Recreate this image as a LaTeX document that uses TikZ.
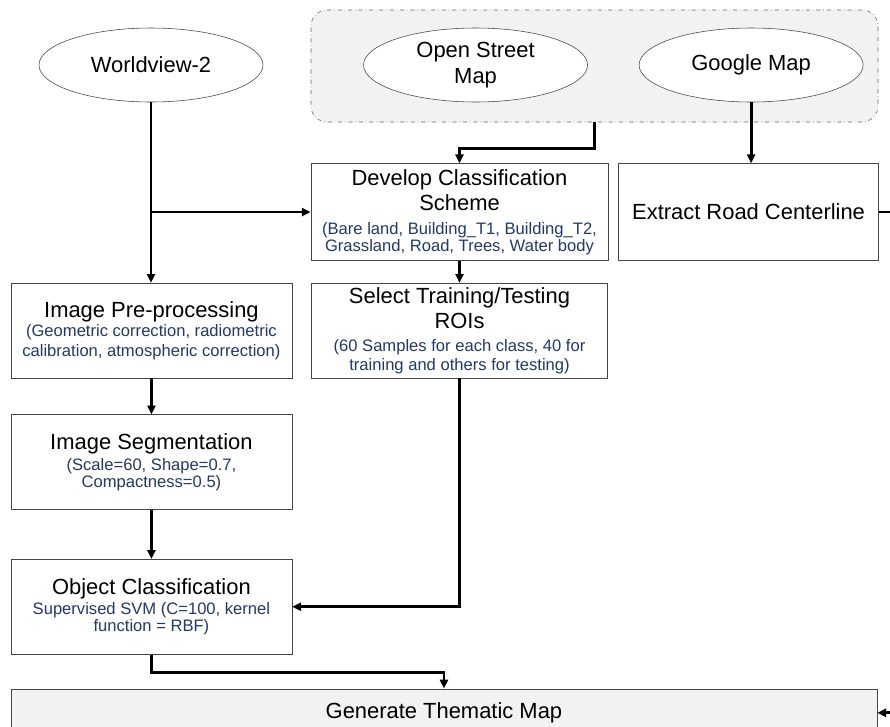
\documentclass[tikz,border=0pt]{standalone}
\usepackage{fontspec}
\setmainfont{Liberation Sans}
\usepackage{tikz}
\usetikzlibrary{positioning, arrows.meta, shapes.geometric}
\definecolor{noteblue}{RGB}{36,56,104}
\definecolor{edgegray}{RGB}{70,70,70}
\newcommand{\note}[1]{{\fontsize{11.8}{13}\selectfont\color{noteblue}#1}}
\tikzstyle{source} = [
    ellipse,
    draw = edgegray,
    fill = white,
    text centered,
    align = center,
    minimum width = 5.6cm,
    minimum height = 1.85cm,
    inner sep = 0pt
]
\tikzstyle{group} = [
    rectangle,
    draw = gray!80!black,
    dash dot,
    fill = gray!10,
    rounded corners = 0.4cm,
    minimum width = 14.175cm,
    minimum height = 2.8cm
]
\tikzstyle{process} = [
    rectangle,
    draw = edgegray,
    fill = white,
    text centered,
    align = center,
    inner sep = 1pt,
    minimum width = 7.025cm,
    minimum height = 2.375cm
]
\tikzstyle{result} = [
    rectangle,
    draw = edgegray,
    fill = gray!10,
    text centered,
    minimum width = 21.65cm,
    minimum height = 1.2cm
]
\tikzstyle{link} = [
    line width = 2pt,
    -{Triangle[length = 2.2mm, width = 2mm]}
]

\begin{document}
\begin{tikzpicture}[font = \fontsize{15.6}{18}\selectfont]

                \useasboundingbox (0,0) rectangle (22.25,-18.15);

                % data sources
                \node [group] (maps) at (14.8625,-1.65) {};
                \node [source] (wv) at (3.775,-1.625) {Worldview-2};
                \node [source, right = 2.5cm of wv] (osm) {Open Street\\Map};
                \node [source, right = 1.275cm of osm] (gmap) {Google Map};

                % scheme and road centerline
                \node [process, below right = 1.025cm and 0cm of maps.south west, minimum width = 7.425cm, minimum height = 2.425cm] (dev)
                    {Develop Classification\\Scheme\\[-1pt]\note{(Bare land, Building\_T1, Building\_T2,}\\[-6pt]\note{Grassland, Road, Trees, Water body}};
                \node [process, right = 0.25cm of dev, minimum width = 6.5cm, minimum height = 2.425cm] (ext) {Extract Road Centerline};

                % training samples
                \node [process, below = 0.55cm of dev, minimum width = 7.4cm] (sel)
                    {Select Training/Testing\\ROIs\\[-1.5pt]\note{(60 Samples for each class, 40 for}\\[-5pt]\note{training and others for testing)}};

                % image processing chain
                \node [process, left = 0.475cm of sel] (pre)
                    {Image Pre-processing\\[-4pt]\note{(Geometric correction, radiometric}\\[-4pt]\note{calibration, atmospheric correction)}};
                \node [process, below = 0.9cm of pre] (seg)
                    {Image Segmentation\\[-3pt]\note{(Scale=60, Shape=0.7,}\\[-6pt]\note{Compactness=0.5)}};
                \node [process, below = 1.225cm of seg] (obj)
                    {Object Classification\\[-4pt]\note{Supervised SVM (C=100, kernel}\\[-6pt]\note{function = RBF)}};

                % output
                \node [result, below right = 0.85cm and 0cm of obj.south west] (gen) {Generate Thematic Map};
                \coordinate [right = 0.35cm of ext.east] (extOut);
                \coordinate [right = 0.35cm of gen.east] (genIn);

                % connectors
                \draw [link] (wv.south) -- (wv.south |- pre.north);
                \draw [link] (wv.south |- dev.west) -- (dev.west);
                \draw [link] (maps.south) -- ++(0,-0.65) -| (dev.north);
                \draw [link] (gmap.south) -- (gmap.south |- ext.north);
                \draw [link] (dev) -- (sel);
                \draw [link] (pre) -- (seg);
                \draw [link] (seg) -- (obj);
                \draw [link] (sel.south) |- (obj.east);
                \draw [link] (obj.south) -- ++(0,-0.45) -| (gen.north);
                \draw [line width = 2pt] (ext.east) -- (extOut);
                \draw [link] (genIn) -- (gen.east);

\end{tikzpicture}
\end{document}
